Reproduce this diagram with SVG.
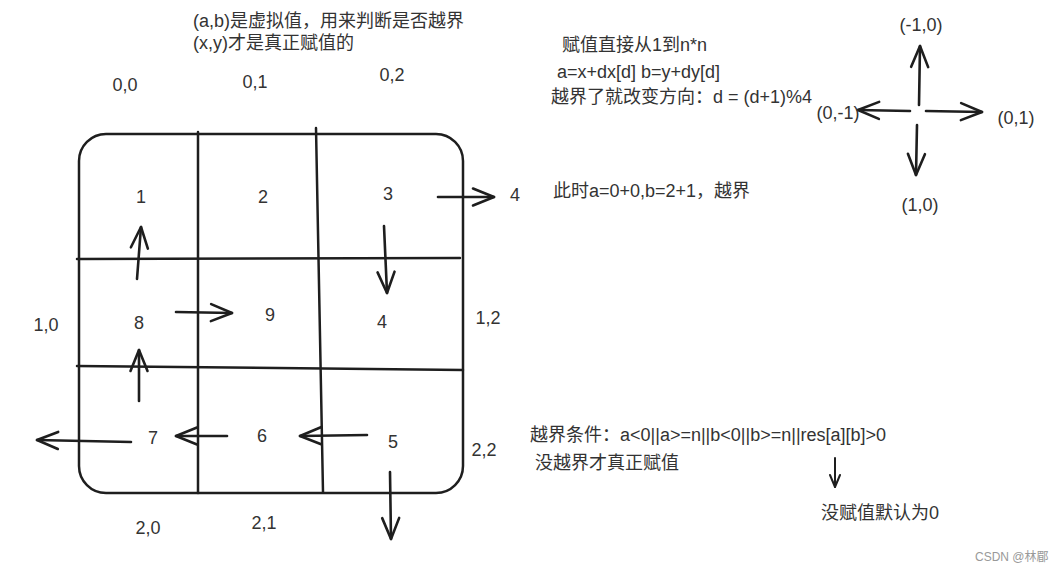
<svg xmlns="http://www.w3.org/2000/svg" width="1060" height="573" viewBox="0 0 1060 573">
<style>
text{font-family:"Liberation Sans","Noto Sans CJK SC",sans-serif;font-size:18px;fill:#333}
.c{text-anchor:middle}
.g{fill:none;stroke:#1e1e1e;stroke-width:2.5;stroke-linecap:round}
.a{fill:none;stroke:#1e1e1e;stroke-width:2.6;stroke-linecap:round;marker-end:url(#ah)}
.s{fill:none;stroke:#1e1e1e;stroke-width:2;stroke-linecap:round;marker-end:url(#ahs)}
.wm{font-size:12px;fill:#999}
</style>
<defs>
<marker id="ah" markerUnits="userSpaceOnUse" markerWidth="50" markerHeight="50" refX="0" refY="0" viewBox="-25 -25 50 50" orient="auto" overflow="visible">
<path d="M-21,-8.5 L0,0 L-21,8.5" fill="none" stroke="#1e1e1e" stroke-width="2.6" stroke-linecap="round" stroke-linejoin="round"/>
</marker>
<marker id="ahs" markerUnits="userSpaceOnUse" markerWidth="30" markerHeight="30" refX="0" refY="0" viewBox="-15 -15 30 30" orient="auto" overflow="visible">
<path d="M-12,-5 L0,0 L-12,5" fill="none" stroke="#1e1e1e" stroke-width="2" stroke-linecap="round" stroke-linejoin="round"/>
</marker>
</defs>
<rect width="1060" height="573" fill="#fff"/>
<g id="grid">
<rect class="g" x="79" y="134" width="384" height="359" rx="27"/>
<line class="g" x1="198" y1="132" x2="198" y2="493"/>
<line class="g" x1="316" y1="128" x2="323" y2="492"/>
<line class="g" x1="77" y1="259" x2="460" y2="258"/>
<line class="g" x1="77" y1="366" x2="463" y2="370"/>
</g>
<g id="cells">
<text class="c" x="141" y="203">1</text>
<text class="c" x="263" y="203">2</text>
<text class="c" x="388" y="200">3</text>
<text class="c" x="515" y="201">4</text>
<text class="c" x="139" y="329">8</text>
<text class="c" x="270" y="321">9</text>
<text class="c" x="382" y="328">4</text>
<text class="c" x="153" y="444">7</text>
<text class="c" x="262" y="442">6</text>
<text class="c" x="393" y="448">5</text>
</g>
<g id="coords">
<text class="c" x="125" y="91">0,0</text>
<text class="c" x="255" y="88">0,1</text>
<text class="c" x="392" y="81">0,2</text>
<text class="c" x="46" y="331">1,0</text>
<text class="c" x="488" y="324">1,2</text>
<text class="c" x="148" y="534">2,0</text>
<text class="c" x="264" y="529">2,1</text>
<text class="c" x="484" y="456">2,2</text>
</g>
<g id="connectors">
<line class="a" x1="137" y1="279" x2="141" y2="227"/>
<line class="a" x1="384" y1="226" x2="387" y2="293"/>
<line class="a" x1="438" y1="197" x2="494" y2="197"/>
<line class="a" x1="176" y1="312" x2="232" y2="313"/>
<line class="a" x1="139" y1="401" x2="139" y2="350"/>
<line class="a" x1="131" y1="442" x2="37" y2="440"/>
<line class="a" x1="227" y1="436" x2="176" y2="436"/>
<line class="a" x1="367" y1="435" x2="300" y2="436"/>
<line class="a" x1="390" y1="472" x2="391" y2="539"/>
<line class="a" x1="919" y1="105" x2="920" y2="46"/>
<line class="a" x1="910" y1="111" x2="858" y2="110"/>
<line class="a" x1="926" y1="111" x2="982" y2="112"/>
<line class="a" x1="917" y1="125" x2="916" y2="175"/>
<line class="s" x1="835" y1="458" x2="835" y2="487"/>
</g>
<g id="dirs">
<text class="c" x="921" y="31">(-1,0)</text>
<text class="c" x="838" y="119">(0,-1)</text>
<text class="c" x="1016" y="124">(0,1)</text>
<text class="c" x="920" y="211">(1,0)</text>
</g>
<g id="notes">
<text x="193" y="27">(a,b)是虚拟值，用来判断是否越界</text>
<text x="193" y="49">(x,y)才是真正赋值的</text>
<text x="562" y="51">赋值直接从1到n*n</text>
<text x="557" y="78">a=x+dx[d] b=y+dy[d]</text>
<text x="551" y="103">越界了就改变方向：d = (d+1)%4</text>
<text x="553" y="197">此时a=0+0,b=2+1，越界</text>
<text x="530" y="441">越界条件：a&lt;0||a&gt;=n||b&lt;0||b&gt;=n||res[a][b]&gt;0</text>
<text x="535" y="469">没越界才真正赋值</text>
<text x="821" y="519">没赋值默认为0</text>
<text class="wm" x="975" y="561">CSDN @林郿</text>
</g>
</svg>
